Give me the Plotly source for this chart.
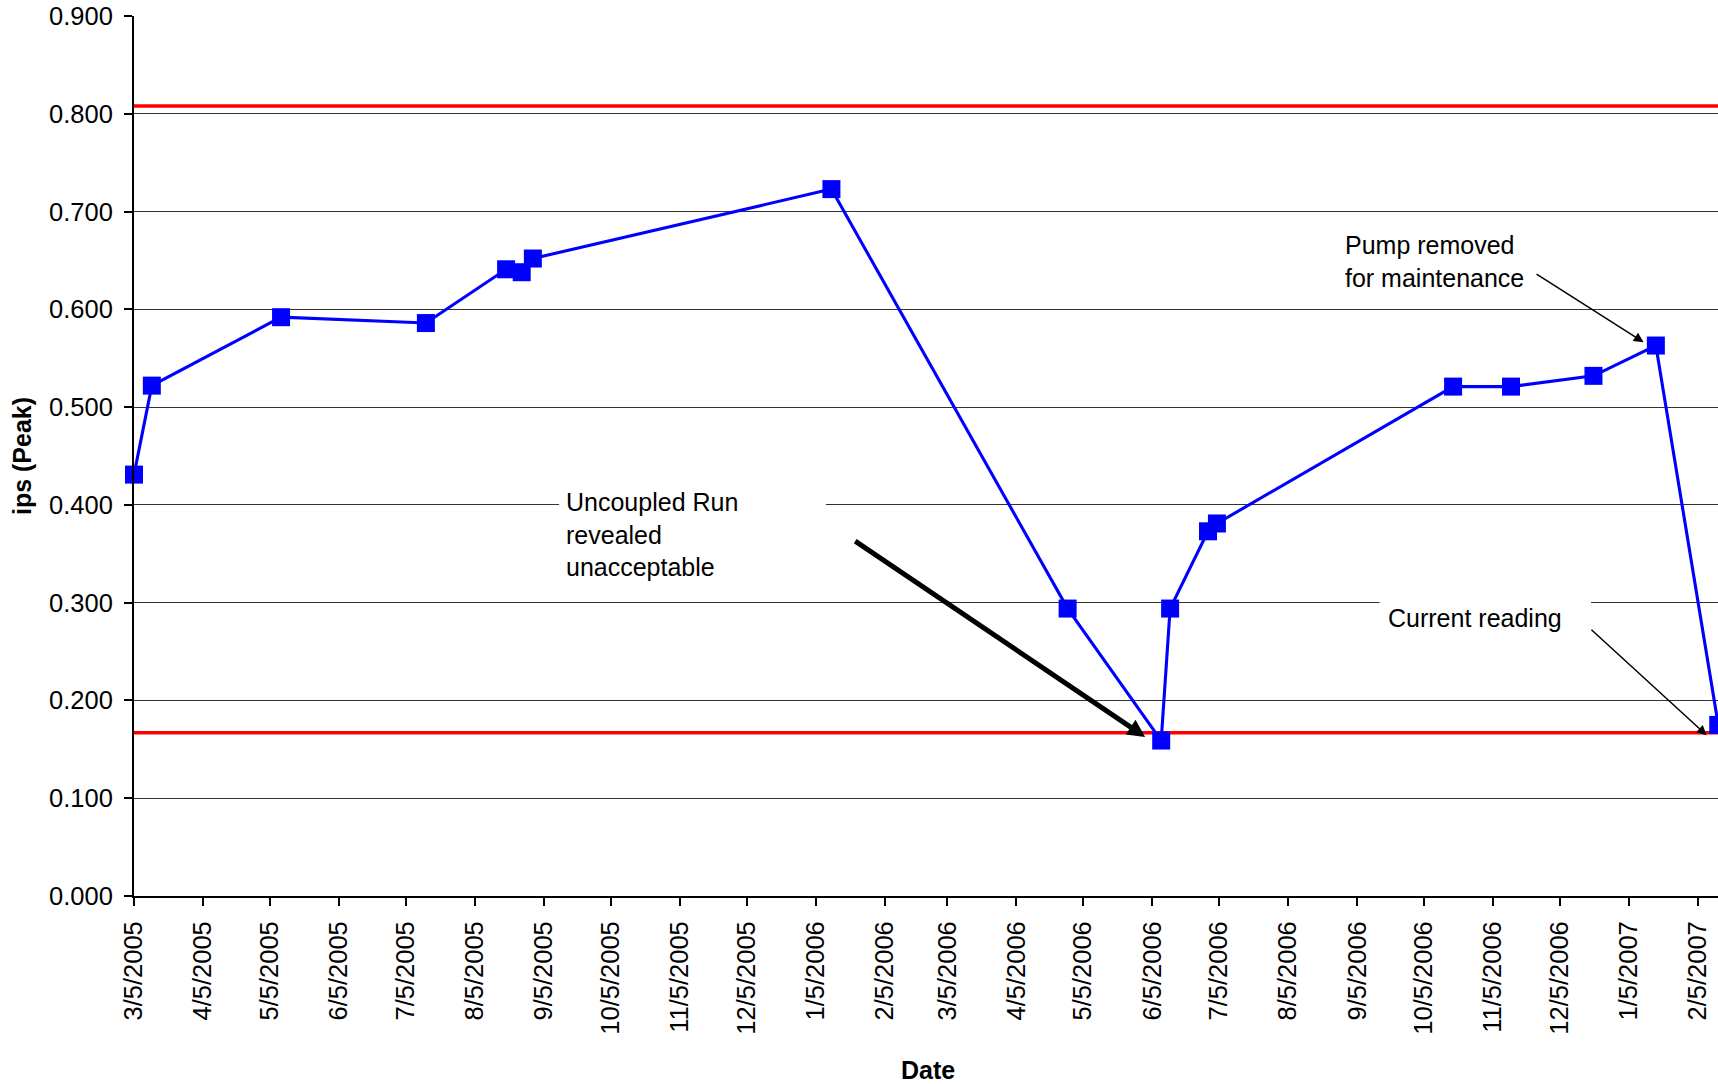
import pandas as pd
import plotly.graph_objects as go

# ---- data ----
dates = ["3/5/2005", "3/13/2005", "5/10/2005", "7/14/2005", "8/19/2005", "8/26/2005",
         "8/31/2005", "1/12/2006", "4/28/2006", "6/9/2006", "6/13/2006", "6/30/2006",
         "7/4/2006", "10/18/2006", "11/13/2006", "12/20/2006", "1/17/2007", "2/14/2007"]
ips_peak = [0.431, 0.522, 0.592, 0.586, 0.641, 0.638,
            0.652, 0.723, 0.294, 0.159, 0.294, 0.373,
            0.381, 0.521, 0.521, 0.532, 0.563, 0.175]

tick_labels = ["3/5/2005", "4/5/2005", "5/5/2005", "6/5/2005", "7/5/2005", "8/5/2005",
               "9/5/2005", "10/5/2005", "11/5/2005", "12/5/2005", "1/5/2006", "2/5/2006",
               "3/5/2006", "4/5/2006", "5/5/2006", "6/5/2006", "7/5/2006", "8/5/2006",
               "9/5/2006", "10/5/2006", "11/5/2006", "12/5/2006", "1/5/2007", "2/5/2007"]

upper_limit = 0.808
lower_limit = 0.167

x_dates = pd.to_datetime(dates, format="%m/%d/%Y")
tick_vals = pd.to_datetime(tick_labels, format="%m/%d/%Y")

FONT = "Liberation Sans, Arial, Helvetica, sans-serif"

fig = go.Figure()
fig.add_trace(go.Scatter(
    x=x_dates, y=ips_peak, mode="lines+markers",
    line=dict(color="#0000FF", width=3.1),
    marker=dict(symbol="square", size=18, color="#0000FF", line=dict(width=0)),
    cliponaxis=False, showlegend=False, hoverinfo="x+y",
))

shapes = []
for lvl in (upper_limit, lower_limit):
    shapes.append(dict(type="line", xref="paper", x0=0, x1=1, yref="y", y0=lvl, y1=lvl,
                       line=dict(color="#FF0000", width=3.5), layer="below"))
# white text-box backgrounds (they hide the gridlines behind the callout texts)
shapes.append(dict(type="rect", xref="x", yref="y",
                   x0="2005-09-11 19:00", x1="2006-01-09 12:00", y0=0.3108, y1=0.4255,
                   fillcolor="white", line=dict(width=0), layer="above"))
shapes.append(dict(type="rect", xref="x", yref="y",
                   x0="2006-09-15", x1="2006-12-18 22:00", y0=0.2565, y1=0.3128,
                   fillcolor="white", line=dict(width=0), layer="above"))

ann_font = dict(family=FONT, size=25, color="black")
annotations = [
    dict(x="2005-09-14", y=0.3702, xref="x", yref="y", xanchor="left", yanchor="middle",
         align="left", showarrow=False, font=ann_font,
         text="Uncoupled Run<br>revealed<br>unacceptable"),
    dict(x="2006-08-29 12:00", y=0.6485, xref="x", yref="y", xanchor="left", yanchor="middle",
         align="left", showarrow=False, font=ann_font,
         text="Pump removed<br>for maintenance"),
    dict(x="2006-09-18", y=0.2842, xref="x", yref="y", xanchor="left", yanchor="middle",
         align="left", showarrow=False, font=ann_font, text="Current reading"),
    # arrows
    dict(x="2006-06-01 19:00", y=0.1627, ax="2006-01-22", ay=0.364, xref="x", yref="y",
         axref="x", ayref="y", text="", showarrow=True, arrowhead=2, arrowsize=0.7,
         arrowwidth=5, arrowcolor="black", standoff=0),
    dict(x="2007-01-11 12:00", y=0.5664, ax="2006-11-23 19:00", ay=0.637, xref="x", yref="y",
         axref="x", ayref="y", text="", showarrow=True, arrowhead=2, arrowsize=1.3,
         arrowwidth=1.5, arrowcolor="black", standoff=0),
    dict(x="2007-02-08 19:00", y=0.1645, ax="2006-12-18 10:00", ay=0.2737, xref="x", yref="y",
         axref="x", ayref="y", text="", showarrow=True, arrowhead=2, arrowsize=1.3,
         arrowwidth=1.5, arrowcolor="black", standoff=0),
    # x-axis title (centred on the visible part of the plot, as in the cropped original)
    dict(x=0.495, y=-0.1977, xref="paper", yref="paper", xanchor="center", yanchor="middle",
         showarrow=False, text="<b>Date</b>", font=dict(family=FONT, size=25, color="black")),
]

# the chart runs past the right edge of the window (as in the cropped original)
fig.update_layout(
    width=1738, height=1084,
    margin=dict(l=134, r=0, t=16, b=188, autoexpand=False),
    paper_bgcolor="white", plot_bgcolor="white",
    font=dict(family=FONT, color="black", size=25),
    shapes=shapes, annotations=annotations,
    xaxis=dict(
        type="date", range=["2005-03-05", "2007-02-22 20:43"],
        tickmode="array", tickvals=tick_vals, ticktext=tick_labels, tickangle=-90,
        ticks="outside", ticklen=8, tickwidth=1.5, tickcolor="black",
        showline=True, linecolor="black", linewidth=2, showgrid=False, zeroline=False,
        tickfont=dict(family=FONT, size=25.5, color="black"), ticklabelstandoff=5,
        ticklabeloverflow="allow",
        automargin=False,
    ),
    yaxis=dict(
        range=[0, 0.90005], tick0=0, dtick=0.1, tickformat=".3f",
        ticks="outside", ticklen=8, tickwidth=1.5, tickcolor="black",
        showline=True, linecolor="black", linewidth=2,
        showgrid=True, gridcolor="#333333", gridwidth=1, zeroline=False,
        tickfont=dict(family=FONT, size=25.5, color="black"), ticklabelstandoff=6,
        ticklabeloverflow="allow",
        title=dict(text="<b>ips (Peak)</b>", font=dict(family=FONT, size=25, color="black"), standoff=10),
        automargin=False,
    ),
)

fig.write_html(
    "out.html",
    config={"displayModeBar": False},
    post_script=("document.body.style.margin='0';"
                 "document.documentElement.style.overflow='hidden';"
                 "document.body.style.overflow='hidden';"),
)
